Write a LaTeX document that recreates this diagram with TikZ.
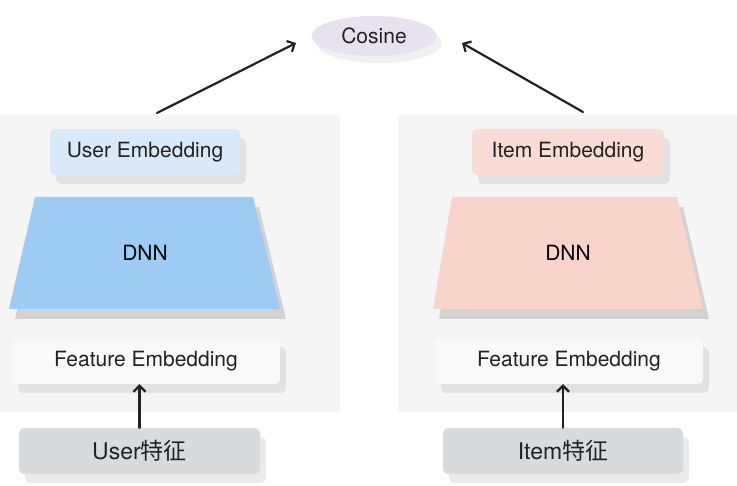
\documentclass[tikz,border=0pt]{standalone}
\usepackage{fontspec}
\setmainfont{TeX Gyre Heros}
\newfontfamily\cjk{Noto Sans CJK SC}
\usetikzlibrary{arrows.meta,shapes.geometric,shadows}
\definecolor{panelgray}{HTML}{F5F5F5}
\definecolor{userlight}{HTML}{D8E9F9}
\definecolor{userdnn}{HTML}{9DCBF3}
\definecolor{itemlight}{HTML}{F9DCD3}
\definecolor{itemdnn}{HTML}{F8D4CA}
\definecolor{featwhite}{HTML}{F9F9F9}
\definecolor{rawgray}{HTML}{D8DBDE}
\definecolor{cosviolet}{HTML}{E7E1F0}
\definecolor{inkgray}{HTML}{222222}
\begin{document}
\begin{tikzpicture}[x=1pt,y=-1pt,>={Straight Barb[length=6pt,width=12pt]}, font=\fontsize{21}{25}\selectfont, line join=round, line cap=round]
		\tikzset{box/.style={rectangle, rounded corners=5pt, minimum height=46pt, text=inkgray, inner sep=0pt,
				drop shadow={shadow xshift=6pt, shadow yshift=-9pt, opacity=.16}}}
		\tikzset{link/.style={->, line width=2.2pt, inkgray}}
		\def \pw{340}\def \ptop{115}\def \pbot{412}
		\useasboundingbox (0,0) rectangle (737,486);
		% two towers
		\fill[panelgray] (0,\ptop) rectangle (\pw,\pbot);
		\fill[panelgray] (398,\ptop) rectangle (737,\pbot);
		\fill[black,opacity=.14] (41,207) -- (259,207) -- (286,319) -- (15,319) -- cycle;
		\fill[userdnn] (35,197) -- (253,197) -- (280,309) -- (9,309) -- cycle;
		\fill[black,opacity=.14] (458,207) -- (683,207) -- (709,319) -- (439,319) -- cycle;
		\fill[itemdnn] (452,197) -- (677,197) -- (703,309) -- (433,309) -- cycle;
		\node (udnn) at (145,253) {DNN};
		\node (idnn) at (568,253) {DNN};
		\node[box, fill=userlight, minimum width=190pt] (uemb) at (145,152) {User Embedding};
		\node[box, fill=itemlight, minimum width=192pt] (iemb) at (568,152) {Item Embedding};
		\node[box, fill=featwhite, minimum width=268pt] (ufeat) at (146,361) {Feature Embedding};
		\node[box, fill=featwhite, minimum width=268pt] (ifeat) at (569,361) {Feature Embedding};
		\node[box, fill=rawgray, minimum width=241pt, font=\fontsize{23}{27}\selectfont] (uraw) at (139.5,451) {User{\cjk 特征}};
		\node[box, fill=rawgray, minimum width=240pt, font=\fontsize{23}{27}\selectfont] (iraw) at (563,451) {Item{\cjk 特征}};
		\node[ellipse, fill=cosviolet, minimum width=125pt, minimum height=40pt, text=inkgray,
			drop shadow={shadow xshift=5pt, shadow yshift=-7pt, opacity=.12}] (cos) at (374,36) {Cosine};
		\coordinate (ustart) at (157,113);
		\coordinate (uend) at (296,43);
		\coordinate (istart) at (583,112);
		\coordinate (iend) at (462,43);
		\draw[link] (uraw.north) -- (uraw.north |- ufeat.south);
		\draw[link] (iraw.north) -- (iraw.north |- ifeat.south);
		\draw[link] (ustart) -- (uend);
		\draw[link] (istart) -- (iend);
\end{tikzpicture}
\end{document}
